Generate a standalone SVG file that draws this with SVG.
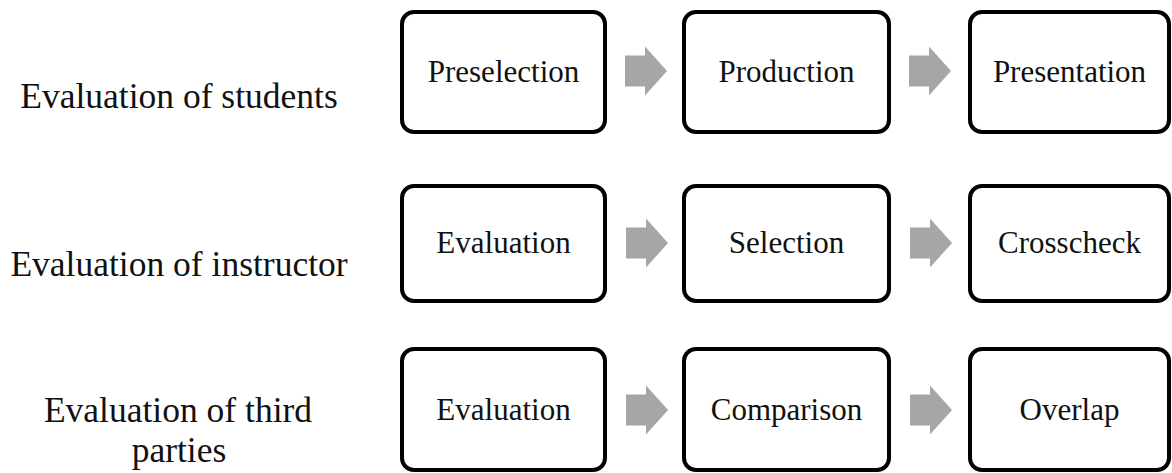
<svg xmlns="http://www.w3.org/2000/svg" width="1172" height="473" viewBox="0 0 1172 473">
<style>
.box{fill:#fff;stroke:#000;stroke-width:4}
.bt{font-family:"Liberation Serif","Times New Roman",serif;font-size:31px;fill:#111;text-anchor:middle}
.lbl{font-family:"Liberation Serif","Times New Roman",serif;font-size:35.5px;fill:#111;text-anchor:middle}
.arr{fill:#a6a6a6}
</style>
<defs>
<path id="ar" d="M0,-15.5 H20 V-24.5 L42,0 L20,24.5 V15.5 H0 Z"/>
</defs>
<rect width="1172" height="473" fill="#fff"/>
<g id="labels">
<text class="lbl" x="179" y="108">Evaluation of students</text>
<text class="lbl" x="179" y="276">Evaluation of instructor</text>
<text class="lbl" x="178" y="422">Evaluation of third</text>
<text class="lbl" x="179" y="462">parties</text>
</g>
<g id="connectors">
<use href="#ar" class="arr" x="625" y="71"/>
<use href="#ar" class="arr" x="909" y="71"/>
<use href="#ar" class="arr" x="626" y="243"/>
<use href="#ar" class="arr" x="910" y="243"/>
<use href="#ar" class="arr" x="626" y="410"/>
<use href="#ar" class="arr" x="910" y="410"/>
</g>
<g id="n-preselection"><rect class="box" x="402" y="12" width="203" height="120" rx="12"/><text class="bt" x="503.5" y="82">Preselection</text></g>
<g id="n-production"><rect class="box" x="684" y="12" width="205" height="120" rx="12"/><text class="bt" x="786.5" y="82">Production</text></g>
<g id="n-presentation"><rect class="box" x="970" y="12" width="199" height="120" rx="12"/><text class="bt" x="1069.5" y="82">Presentation</text></g>
<g id="n-evaluation1"><rect class="box" x="402" y="186" width="203" height="115" rx="12"/><text class="bt" x="503.5" y="253">Evaluation</text></g>
<g id="n-selection"><rect class="box" x="684" y="186" width="205" height="115" rx="12"/><text class="bt" x="786.5" y="253">Selection</text></g>
<g id="n-crosscheck"><rect class="box" x="970" y="186" width="199" height="115" rx="12"/><text class="bt" x="1069.5" y="253">Crosscheck</text></g>
<g id="n-evaluation2"><rect class="box" x="402" y="349" width="203" height="121" rx="12"/><text class="bt" x="503.5" y="420">Evaluation</text></g>
<g id="n-comparison"><rect class="box" x="684" y="349" width="205" height="121" rx="12"/><text class="bt" x="786.5" y="420">Comparison</text></g>
<g id="n-overlap"><rect class="box" x="970" y="349" width="199" height="121" rx="12"/><text class="bt" x="1069.5" y="420">Overlap</text></g>
</svg>
